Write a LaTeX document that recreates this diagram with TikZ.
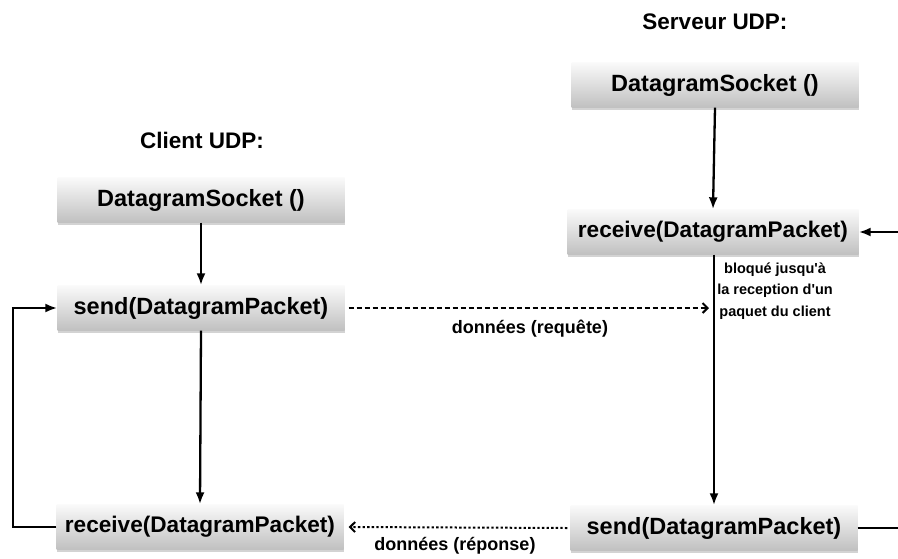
\documentclass[tikz,border=0pt]{standalone}
\usepackage{fontspec}
\setmainfont{Liberation Sans}[Ligatures=TeXOff]
\usetikzlibrary{arrows.meta,shadows}

\definecolor{boxtop}{RGB}{250,250,250}
\definecolor{boxbottom}{RGB}{192,192,192}

\tikzset{
  callbox/.style={
    minimum width=287pt, minimum height=45pt, inner sep=0pt,
    top color=boxtop, bottom color=boxbottom,
    drop shadow={shadow xshift=0pt, shadow yshift=-2.5pt, opacity=0.35, fill=gray},
    font=\bfseries\fontsize{23.5}{27}\selectfont
  },
  widecall/.style={callbox, font=\bfseries\fontsize{22.6}{27}\selectfont},
  title/.style={font=\bfseries\fontsize{22.5}{27}\selectfont},
  label/.style={font=\bfseries\fontsize{18}{21}\selectfont},
  note/.style={font=\bfseries\fontsize{14.5}{21.5}\selectfont, align=center},
  flow/.style={line width=2.3pt, -{Latex[length=12pt,width=9pt]}},
  plain/.style={line width=2.3pt},
  msg/.style={line width=2pt, dash pattern=on 5pt off 3pt, -{Straight Barb[length=5pt,width=10pt,line width=2pt]}},
  reply/.style={line width=2pt, dash pattern=on 2.4pt off 2.2pt, -{Straight Barb[length=5pt,width=10pt,line width=2pt]}}
}

\begin{document}
\begin{tikzpicture}[x=1pt,y=-1pt]
  \useasboundingbox (0,0) rectangle (898,558);

  % column titles
  \node[title] (tserv) at (715,22) {Serveur UDP:};
  \node[title] (tcli) at (202,140) {Client UDP:};

  % client side
  \node[callbox] (cds)   at (201,200) {DatagramSocket ()};
  \node[callbox] (csend) at (201,308) {send(DatagramPacket)};
  \node[widecall] (crecv) at (200,527) {receive(DatagramPacket)};

  % server side
  \node[callbox] (sds)   at (715,85)  {DatagramSocket ()};
  \node[widecall, minimum width=291pt] (srecv) at (713,232) {receive(DatagramPacket)};
  \node[callbox] (ssend) at (714,528) {send(DatagramPacket)};

  % client flow
  \draw[flow] (cds.south) -- (csend.north);
  \draw[flow] (csend.south) -- (crecv.north);
  \coordinate (loopb) at (13,527);
  \coordinate (loopt) at (13,308);
  \draw[plain] (crecv.west) -- (loopb) -- (loopt);
  \draw[flow] ([xshift=-1.15pt]loopt) -- (csend.west);

  % server flow
  \draw[flow] (sds.south) -- (srecv.north);
  \draw[flow] ([xshift=1pt]srecv.south) -- ([xshift=0pt]ssend.north);
  \coordinate (sin) at (898,232);
  \coordinate (sout) at (898,528);
  \draw[flow] (sin) -- (srecv.east);
  \draw[plain] (ssend.east) -- (sout);

  % blocking note
  \node[note] (block) at (775,291) {bloqué jusqu'à\\la reception d'un\\paquet du client};

  % messages between client and server
  \coordinate (reqend) at (709,308);
  \draw[msg] ([xshift=4pt]csend.east) -- (reqend);
  \node[label] (req) at (530,329) {données (requête)};
  \draw[reply] ([xshift=-3pt]ssend.west) -- ([xshift=5pt]crecv.east);
  \node[label] (rep) at (455,546) {données (réponse)};
\end{tikzpicture}
\end{document}
